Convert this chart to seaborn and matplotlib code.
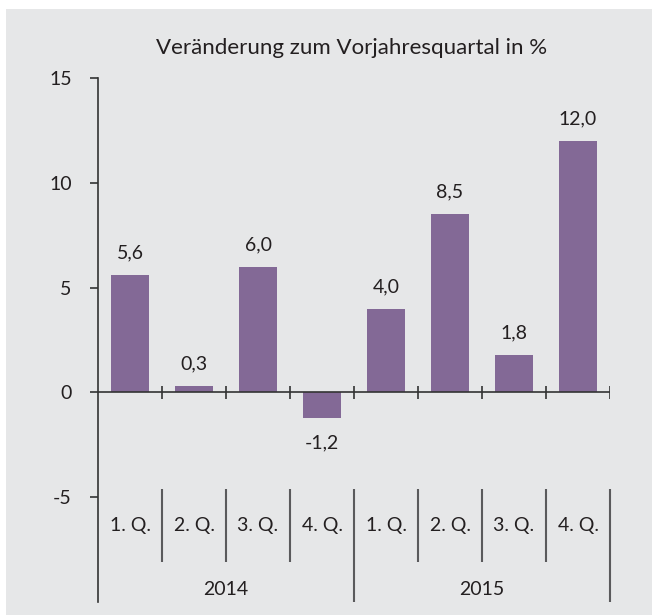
import matplotlib
matplotlib.use("Agg")
import matplotlib.pyplot as plt
import seaborn as sns
import pandas as pd
from matplotlib.patches import Rectangle

# daten
jahre = ["2014", "2015"]
quartale = ["1. Q.", "2. Q.", "3. Q.", "4. Q."]
werte = [5.6, 0.3, 6.0, -1.2, 4.0, 8.5, 1.8, 12.0]
y_ticks = [-5, 0, 5, 10, 15]

df = pd.DataFrame({
    "Jahr": [j for j in jahre for _ in quartale],
    "Quartal": quartale * len(jahre),
    "Wert": werte,
})
df["Kat"] = df["Jahr"] + " " + df["Quartal"]

sns.set_style("white")
plt.rcParams["font.family"] = ["Lato", "DejaVu Sans"]

bg = "#e6e7e8"
bar_col = "#836996"
txt_col = "#231f20"
line_col = "#5a5a5c"
fs = 14

fig = plt.figure(figsize=(6.52, 6.15), dpi=100, facecolor="white")
# grauer hintergrund
fig.patches.append(Rectangle((6 / 652, 0), 1, 1 - 9 / 615, transform=fig.transFigure,
                             facecolor=bg, edgecolor="none", zorder=-10))

ax = fig.add_axes([98 / 652, 1 - 602 / 615, 512 / 652, 524 / 615])
ax.set_facecolor("none")

sns.barplot(data=df, x="Kat", y="Wert", color=bar_col, saturation=1,
            width=0.59, linewidth=0, ax=ax)

n = len(df)
ax.set_xlim(-0.5, n - 0.5)
ax.set_ylim(-10, 15)
ax.set_yticks(y_ticks)
ax.set_yticklabels([str(t) for t in y_ticks])
ax.set_xticks([])
ax.set_xlabel("")
ax.set_ylabel("")
ax.tick_params(axis="y", length=6, width=1.2, color="#333333", pad=13,
               labelsize=fs, labelcolor=txt_col, left=True)

for s in ["top", "right", "bottom"]:
    ax.spines[s].set_visible(False)
ax.spines["left"].set_color("#333333")
ax.spines["left"].set_linewidth(1.2)

# null-linie mit ticks
ax.axhline(0, color="#333333", lw=1.2, zorder=3)
for b in range(n):
    ax.vlines(b + 0.5, -0.3, 0.3, color="#333333", lw=1.2, zorder=3)

# werte-labels
for i, v in enumerate(werte):
    lab = f"{v:.1f}".replace(".", ",")
    if v >= 0:
        ax.text(i, v + 1.05, lab, ha="center", va="center", fontsize=fs, color=txt_col)
    else:
        ax.text(i, v - 1.2, lab, ha="center", va="center", fontsize=fs, color=txt_col)

# kategorie-achse unten
for i, q in enumerate(df["Quartal"]):
    ax.text(i, -6.37, q, ha="center", va="center", fontsize=fs, color=txt_col)
for k, j in enumerate(jahre):
    ax.text(k * 4 + 1.5, -9.41, j, ha="center", va="center", fontsize=fs, color=txt_col)

for b in range(n):
    x = b + 0.5
    if (b + 1) % 4 == 0:
        ax.vlines(x, -4.63, -10, color=line_col, lw=1.5, clip_on=False)
    else:
        ax.vlines(x, -4.63, -8.07, color=line_col, lw=1.5)

fig.text(352 / 652, 1 - 48 / 615, "Veränderung zum Vorjahresquartal in %",
         ha="center", va="center", fontsize=16, color=txt_col)

fig.savefig("out.png", dpi=100, facecolor="white")
